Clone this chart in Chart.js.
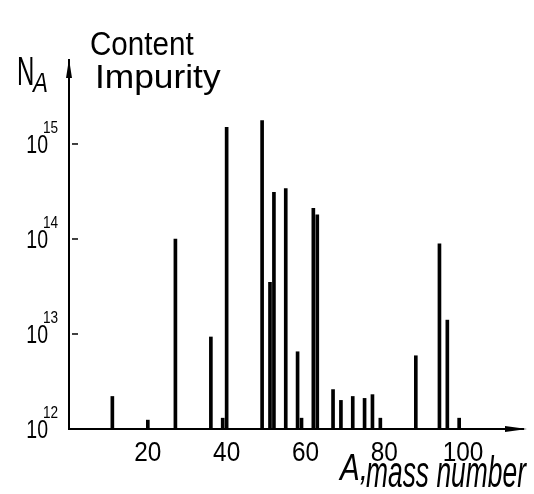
<!DOCTYPE html>
<html>
<head>
<meta charset="utf-8">
<script src="https://cdn.jsdelivr.net/npm/chart.js@4"></script>
<style>
  html, body { margin: 0; padding: 0; background: #fff; }
  canvas { display: block; }
</style>
</head>
<body>
<canvas id="myChart" width="534" height="494"></canvas>
<script>
// mass number A and impurity content N_A
const massNumbers = [11, 20, 27, 36, 39, 40, 49, 51, 52, 55, 58, 59, 62, 63, 67, 69, 72, 75, 77, 79, 88, 94, 96, 99];
const contents = [2.2e12, 1.24e12, 1.0e14, 9.3e12, 1.3e12, 1.5e15, 1.76e15, 3.5e13, 3.1e14, 3.4e14, 6.5e12, 1.3e12,
                  2.1e14, 1.8e14, 2.6e12, 2.0e12, 2.2e12, 2.1e12, 2.3e12, 1.3e12, 5.9e12, 8.9e13, 1.4e13, 1.3e12];
const xTicks = [20, 40, 60, 80, 100];
const yTickPowers = [12, 13, 14, 15];

const fontFamily = '"Liberation Sans", Arial, sans-serif';

function drawText(ctx, text, x, y, size, sx, align, italic) {
  ctx.save();
  ctx.font = (italic ? 'italic ' : '') + size + 'px ' + fontFamily;
  ctx.textAlign = align || 'left';
  ctx.textBaseline = 'alphabetic';
  ctx.translate(x, y);
  ctx.scale(sx, 1);
  ctx.fillText(text, 0, 0);
  ctx.restore();
}

// arrows, small ticks and hand-lettered labels
const axisDecor = {
  id: 'axisDecor',
  afterDraw(chart) {
    const ctx = chart.ctx;
    const xs = chart.scales.x, ys = chart.scales.y;
    const area = chart.chartArea;
    ctx.save();
    ctx.fillStyle = '#000';
    ctx.strokeStyle = '#000';

    // y arrow
    ctx.beginPath();
    ctx.moveTo(area.left, area.top - 1);
    ctx.lineTo(area.left - 3, area.top + 18);
    ctx.lineTo(area.left + 3, area.top + 18);
    ctx.closePath();
    ctx.fill();
    // x arrow
    ctx.beginPath();
    ctx.moveTo(area.right + 4, area.bottom);
    ctx.lineTo(area.right - 18, area.bottom - 3);
    ctx.lineTo(area.right - 18, area.bottom + 3);
    ctx.closePath();
    ctx.fill();

    ctx.lineWidth = 1.5;
    yTickPowers.forEach(p => {
      const y = ys.getPixelForValue(Math.pow(10, p));
      if (p > 12) {
        ctx.beginPath();
        ctx.moveTo(area.left + 3, y);
        ctx.lineTo(area.left + 9, y);
        ctx.stroke();
      }
      drawText(ctx, '10', 48, y + 9, 26, 0.75, 'right');
      drawText(ctx, String(p), 43, y - 11, 17, 0.8, 'left');
    });

    xTicks.forEach(v => {
      drawText(ctx, String(v), xs.getPixelForValue(v), 461, 28, 0.87, 'center');
    });

    drawText(ctx, 'N', 17, 85, 40, 0.6);
    drawText(ctx, 'A', 33, 92, 28, 0.8, 'left', true);
    drawText(ctx, 'Content', 90, 55, 34, 0.87);
    drawText(ctx, 'Impurity', 95, 88, 33, 1.07);
    drawText(ctx, 'A,', 340, 480, 37, 0.8, 'left', true);
    drawText(ctx, 'mass number', 366, 487, 44, 0.6, 'left', true);
    ctx.restore();
  }
};

const ctx = document.getElementById('myChart').getContext('2d');
const myChart = new Chart(ctx, {
  type: 'bar',
  data: {
    datasets: [{
      label: 'Content impurity',
      data: massNumbers.map((a, i) => ({ x: a, y: contents[i] })),
      base: 1e12,
      barThickness: 3,
      backgroundColor: '#000',
      borderWidth: 0
    }]
  },
  options: {
    responsive: false,
    animation: false,
    layout: { padding: { left: 69, right: 11, top: 60, bottom: 65 } },
    plugins: {
      legend: { display: false },
      tooltip: { enabled: false }
    },
    scales: {
      x: {
        type: 'linear',
        offset: false,
        min: 0,
        max: 115.2,
        grid: { display: false, drawTicks: false },
        border: { display: true, color: '#000', width: 2 },
        ticks: { display: false },
        afterFit: s => { s.height = 0; }
      },
      y: {
        type: 'logarithmic',
        min: 1e12,
        max: Math.pow(10, 15.884),
        grid: { display: false, drawTicks: false },
        border: { display: true, color: '#000', width: 2 },
        ticks: { display: false },
        afterFit: s => { s.width = 0; }
      }
    }
  },
  plugins: [axisDecor]
});
</script>
</body>
</html>
